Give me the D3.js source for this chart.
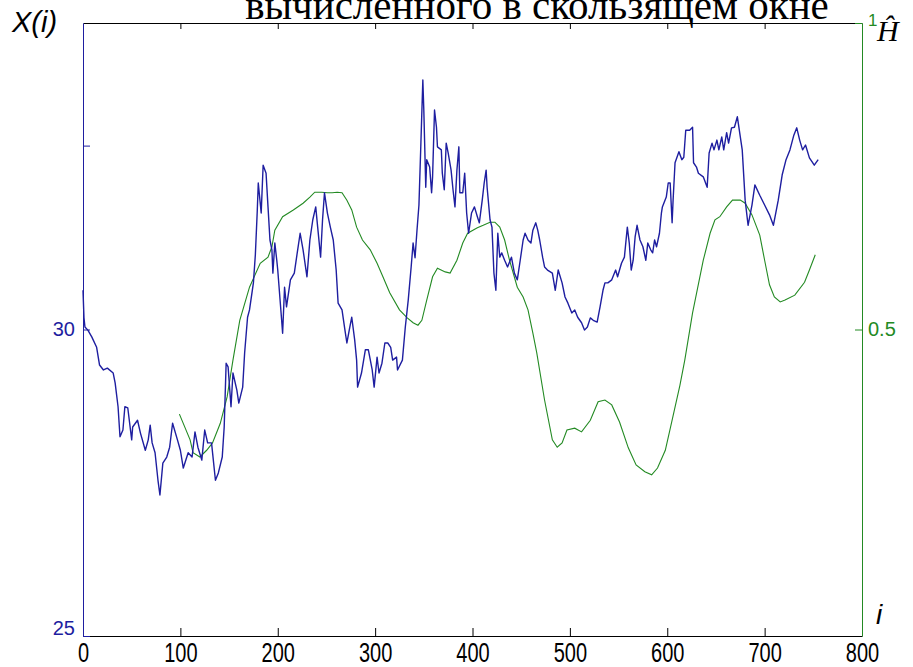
<!DOCTYPE html>
<html>
<head>
<meta charset="utf-8">
<script src="https://d3js.org/d3.v7.min.js"></script>
<style>
    body { margin: 0; background: #fff; }
    svg { display: block; }
</style>
</head>
<body>
<svg id="chart" width="913" height="667"></svg>
<script>
// X(i) - the series itself
const blueIdx = [0,1,2,5,9,14,17,21,25,31,33,36,38,41,43,46,50,51,56,59,64,67,69,71,74,77,79,82,86,89,
    92,97,100,103,108,112,115,118,122,125,128,132,136,139,143,145,147,149,152,154,158,160,164,166,169,171,175,177,179,180,
    183,185,188,190,192,194,195,197,199,200,204,205,207,209,213,217,220,223,226,230,233,236,239,241,244,246,248,251,254,257,
    260,262,266,269,271,274,276,279,281,282,286,290,293,297,299,302,304,307,310,313,316,318,322,323,328,331,334,337,339,341,
    343,345,347,349,350,352,353,356,358,359,361,363,364,368,369,371,373,375,378,380,382,384,386,387,390,392,394,396,399,402,
    405,407,410,412,414,415,418,420,422,424,426,428,430,433,436,440,443,446,449,452,454,457,460,462,465,467,469,472,474,477,
    482,485,488,492,495,498,502,505,508,512,515,518,521,524,528,531,534,536,539,543,547,549,553,556,559,561,563,565,567,569,
    572,575,578,580,583,585,587,589,592,594,595,599,601,603,605,606,608,610,612,615,617,619,623,626,627,630,632,637,641,643,
    646,648,651,653,656,658,661,663,666,669,672,677,680,683,687,690,695,700,705,709,714,718,722,726,730,733,736,739,742,746,
    751,755];
const blueVal = [30.64,30.19,30.04,29.99,29.88,29.71,29.42,29.34,29.37,29.29,29.13,28.74,28.25,28.36,28.74,28.72,28.20,28.41,28.52,28.31,
    28.03,28.20,28.44,28.15,27.99,27.54,27.30,27.82,27.92,28.08,28.47,28.20,28.03,27.74,27.99,27.92,28.33,28.08,27.87,28.36,
    28.15,28.15,27.54,27.66,27.92,28.41,29.45,29.39,28.74,29.29,29.01,28.80,29.06,29.62,30.20,30.32,30.76,31.22,31.95,32.39,
    31.90,32.68,32.55,32.00,31.46,31.30,30.92,31.41,31.13,30.97,30.15,29.94,30.69,30.37,30.81,30.92,31.25,31.57,31.30,30.86,
    31.46,31.79,32.00,31.67,31.18,31.79,32.23,31.90,31.67,31.46,30.97,30.43,30.32,29.99,29.78,30.04,30.20,29.83,29.50,29.06,
    29.29,29.67,29.67,29.34,29.06,29.55,29.29,29.45,29.78,29.78,29.71,29.50,29.55,29.34,29.50,30.04,30.48,31.02,31.41,31.17,
    31.62,32.03,33.04,34.07,33.58,32.32,32.77,32.65,32.23,32.49,33.58,33.30,32.98,32.93,32.55,32.28,33.04,32.88,32.60,32.28,
    32.00,32.60,32.98,32.23,32.23,32.55,31.90,31.57,31.90,32.00,31.84,31.74,32.11,32.39,32.60,32.32,31.79,31.67,30.92,30.64,
    31.57,31.18,31.25,31.13,31.02,31.18,30.92,30.81,31.13,31.46,31.57,31.46,31.41,31.62,31.74,31.62,31.46,31.18,31.02,30.97,
    30.92,30.64,30.97,30.76,30.53,30.43,30.27,30.32,30.20,30.11,29.99,30.04,30.19,30.15,30.12,30.37,30.64,30.76,30.76,30.81,
    30.97,30.86,31.08,31.18,31.67,31.41,30.97,31.13,31.51,31.70,31.46,31.35,31.13,31.41,31.30,31.25,31.46,31.35,31.57,31.90,
    32.00,32.16,32.39,32.39,31.74,32.11,32.72,32.81,32.90,32.77,32.81,33.25,33.25,33.30,32.72,32.65,32.55,32.49,32.32,32.88,
    33.04,32.93,33.09,32.93,33.14,32.93,33.21,33.04,33.29,33.30,33.47,32.93,32.11,31.70,32.03,32.36,32.19,32.03,31.87,31.70,
    32.11,32.52,32.77,32.93,33.17,33.29,33.09,32.93,33.01,32.80,32.68,32.77];

// H estimate in the sliding window
const hIdx = [99,110,113,120,127,133,141,148,154,161,171,182,190,194,197,205,216,226,233,238,
    245,251,256,261,266,271,276,281,287,295,302,308,315,325,333,339,344,348,353,359,
    364,372,377,384,390,395,405,411,418,423,428,433,438,446,452,457,462,466,474,482,
    487,492,497,505,512,521,529,536,543,551,560,568,577,584,590,598,605,613,618,626,
    637,644,649,654,661,667,675,680,687,695,700,705,710,716,721,731,741,746,752];
const hVal = [0.362,0.320,0.299,0.292,0.303,0.315,0.347,0.390,0.450,0.515,0.569,0.608,0.618,0.635,0.662,0.684,0.695,0.706,0.716,0.724,
    0.724,0.723,0.723,0.724,0.723,0.711,0.695,0.667,0.646,0.630,0.608,0.586,0.560,0.532,0.519,0.511,0.507,0.515,0.548,0.586,
    0.600,0.594,0.592,0.613,0.641,0.657,0.666,0.670,0.675,0.675,0.667,0.646,0.613,0.569,0.553,0.532,0.494,0.462,0.385,0.320,
    0.308,0.315,0.336,0.339,0.333,0.352,0.382,0.385,0.377,0.349,0.307,0.279,0.268,0.263,0.274,0.303,0.352,0.409,0.450,0.527,
    0.613,0.657,0.679,0.684,0.700,0.711,0.711,0.706,0.687,0.654,0.613,0.573,0.553,0.545,0.548,0.556,0.577,0.597,0.622];

const xTicks = [0, 100, 200, 300, 400, 500, 600, 700, 800];
const leftTicks = [25, 30, 33];
const leftLabels = ["25", "30", ""];
const rightTicks = [0.5, 1];
const rightLabels = ["0.5", "1"];
const titleText = "вычисленного в скользящем окне";

const blueCol = "#1e1ea0";
const greenCol = "#238a23";

var svg = d3.select("#chart");

let x = d3.scaleLinear().domain([0, 800]).range([83, 862]);
let yL = d3.scaleLinear().domain([25, 35]).range([636, 23]);
let yR = d3.scaleLinear().domain([0, 1]).range([636, 23]);

// frame, top and bottom in black
svg.append("g")
    .attr("transform", "translate(0,23)")
    .call(d3.axisTop(x).tickValues(xTicks.slice(1, -1)).tickSizeInner(-6).tickSizeOuter(0).tickFormat(""))
    .call(g => g.selectAll("line,path").attr("stroke", "#000"));

let bottom = svg.append("g")
    .attr("transform", "translate(0,636)")
    .call(d3.axisBottom(x).tickValues(xTicks).tickSizeInner(-8).tickSizeOuter(0).tickPadding(4.5));
bottom.selectAll("line,path").attr("stroke", "#000");
bottom.selectAll("text")
    .attr("font-family", "Liberation Sans, Arial, sans-serif")
    .attr("font-size", 20)
    .attr("fill", "#000")
    .attr("transform", "scale(1,1.4)");

// left axis, blue
let left = svg.append("g")
    .attr("transform", "translate(83,0)")
    .call(d3.axisLeft(yL).tickValues(leftTicks).tickSizeInner(-7).tickSizeOuter(0).tickPadding(8)
        .tickFormat((d, k) => leftLabels[k]));
left.selectAll("line,path").attr("stroke", blueCol);
left.selectAll("text")
    .attr("font-family", "Liberation Sans, Arial, sans-serif")
    .attr("font-size", 20)
    .attr("fill", blueCol)
    .attr("dy", d => d == 25 ? "-0.1em" : "0.32em");

// right axis, green
let right = svg.append("g")
    .attr("transform", "translate(862,0)")
    .call(d3.axisRight(yR).tickValues(rightTicks).tickSizeInner(-7).tickSizeOuter(0).tickPadding(6)
        .tickFormat((d, k) => rightLabels[k]));
right.selectAll("line,path").attr("stroke", greenCol);
right.selectAll("text")
    .attr("font-family", "Liberation Sans, Arial, sans-serif")
    .attr("font-size", d => d == 1 ? 17 : 20)
    .attr("fill", greenCol)
    .attr("dy", d => d == 1 ? "0.15em" : "0.32em");

// the two series
let blueLine = d3.line().x(d => x(d[0])).y(d => yL(d[1]));
let hLine = d3.line().x(d => x(d[0])).y(d => yR(d[1]));

svg.append("path")
    .datum(hIdx.map((d, k) => [d, hVal[k]]))
    .attr("fill", "none")
    .attr("stroke", greenCol)
    .attr("stroke-width", 1.1)
    .attr("d", hLine);

svg.append("path")
    .datum(blueIdx.map((d, k) => [d, blueVal[k]]))
    .attr("fill", "none")
    .attr("stroke", blueCol)
    .attr("stroke-width", 1.4)
    .attr("stroke-linejoin", "round")
    .attr("d", blueLine);

// labels
svg.append("text")
    .attr("x", 537).attr("y", 19)
    .attr("text-anchor", "middle")
    .attr("font-family", "Liberation Serif, Times New Roman, serif")
    .attr("font-size", 41)
    .text(titleText);

svg.append("text")
    .attr("x", 12).attr("y", 32)
    .attr("font-family", "Liberation Sans, Arial, sans-serif")
    .attr("font-style", "italic")
    .attr("font-size", 29)
    .text("X(i)");

svg.append("text")
    .attr("x", 876).attr("y", 624)
    .attr("font-family", "Liberation Sans, Arial, sans-serif")
    .attr("font-style", "italic")
    .attr("font-size", 28)
    .text("i");

svg.append("text")
    .attr("x", 877).attr("y", 41)
    .attr("font-family", "Liberation Serif, Times New Roman, serif")
    .attr("font-style", "italic")
    .attr("font-size", 30)
    .text("Ĥ");
</script>
</body>
</html>
